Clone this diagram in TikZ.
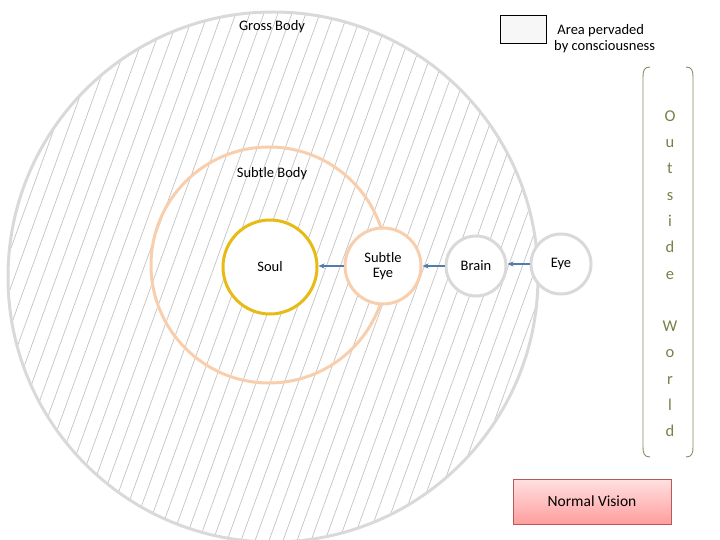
\documentclass[tikz,border=0pt]{standalone}
\usepackage{fontspec}
\setmainfont{Carlito}
\usetikzlibrary{arrows.meta}
\definecolor{grossc}{RGB}{217,217,217}
\definecolor{hatchc}{RGB}{195,195,195}
\definecolor{subtlec}{RGB}{248,206,172}
\definecolor{soulc}{RGB}{232,186,20}
\definecolor{arrowc}{RGB}{84,124,168}
\definecolor{worldc}{RGB}{120,128,70}
\definecolor{bracketc}{RGB}{140,140,100}
\definecolor{nvborder}{RGB}{185,90,90}
\tikzset{
  ring/.style={circle,draw=#1,line width=3pt,fill=white,inner sep=0pt,font=\fontsize{14.5}{15}\selectfont,align=center},
  lbl/.style={font=\fontsize{14.5}{16}\selectfont,inner sep=0pt},
  flow/.style={draw=arrowc,line width=1.2pt,-{Stealth[length=6pt,width=5pt]}},
}
\begin{document}
\begin{tikzpicture}[x=1pt,y=-1pt]
\useasboundingbox (0,0) rectangle (720,540);
% gross body with hatching
\begin{scope}
\clip (273,277) circle (265);
\foreach \i in {-30,...,60}{
  \draw[hatchc,line width=0.7pt] (\i*14-200,560) -- (\i*14+10,-20);
}
\end{scope}
\node[circle,draw=grossc,line width=3pt,minimum size=530pt,inner sep=0pt] (gross) at (273,277) {};
\node[circle,draw=subtlec,line width=3pt,minimum size=236pt,inner sep=0pt] (subtle) at (269,265) {};
\node[lbl] (grosslbl) at (272,27) {Gross Body};
\node[lbl] (subtlelbl) at (272,174) {Subtle Body};
% inner circles
\node[ring=soulc,minimum size=94pt] (soul) at (270,267) {Soul};
\node[ring=subtlec,minimum size=76pt] (seye) at (383,266) {Subtle\\Eye};
\node[ring=grossc,minimum size=60pt] (brain) at (476,266) {Brain};
\node[ring=grossc,minimum size=60pt] (eye) at (561,264) {Eye};
\draw[flow] (eye.west) -- (brain.east |- eye.west);
\draw[flow] (brain.west) -- (seye.east |- brain.west);
\draw[flow] (seye.west) -- (soul.east |- seye.west);
% legend
\node[draw=black,line width=1.5pt,fill=black!3,minimum width=46pt,minimum height=28pt,inner sep=0pt] (legbox) at (523.5,29.5) {};
\node[lbl,align=left,anchor=west] (legtxt) at (554,39) {\ Area pervaded\\by consciousness};
% outside world bracket
\coordinate (bl1) at (650,67);
\coordinate (bl2) at (650,457);
\coordinate (br1) at (686,67);
\coordinate (br2) at (686,457);
\draw[bracketc,line width=0.9pt] (bl1) .. controls (644,67) and (643,71) .. (643,77) -- (643,447) .. controls (643,453) and (644,457) .. (bl2);
\draw[bracketc,line width=0.9pt] (br1) .. controls (692,67) and (693,71) .. (693,77) -- (693,447) .. controls (693,453) and (692,457) .. (br2);
\node[text=worldc,font=\fontsize{16.5}{26.3}\selectfont,align=center,anchor=north] (world) at (670,107) {O\\u\\t\\s\\i\\d\\e\\ \\W\\o\\r\\l\\d};
% normal vision
\node[draw=nvborder,line width=0.8pt,top color=red!12,bottom color=red!38,minimum width=158pt,minimum height=45pt,font=\fontsize{15.5}{16}\selectfont] (nv) at (592,501.5) {Normal Vision};
\end{tikzpicture}
\end{document}
